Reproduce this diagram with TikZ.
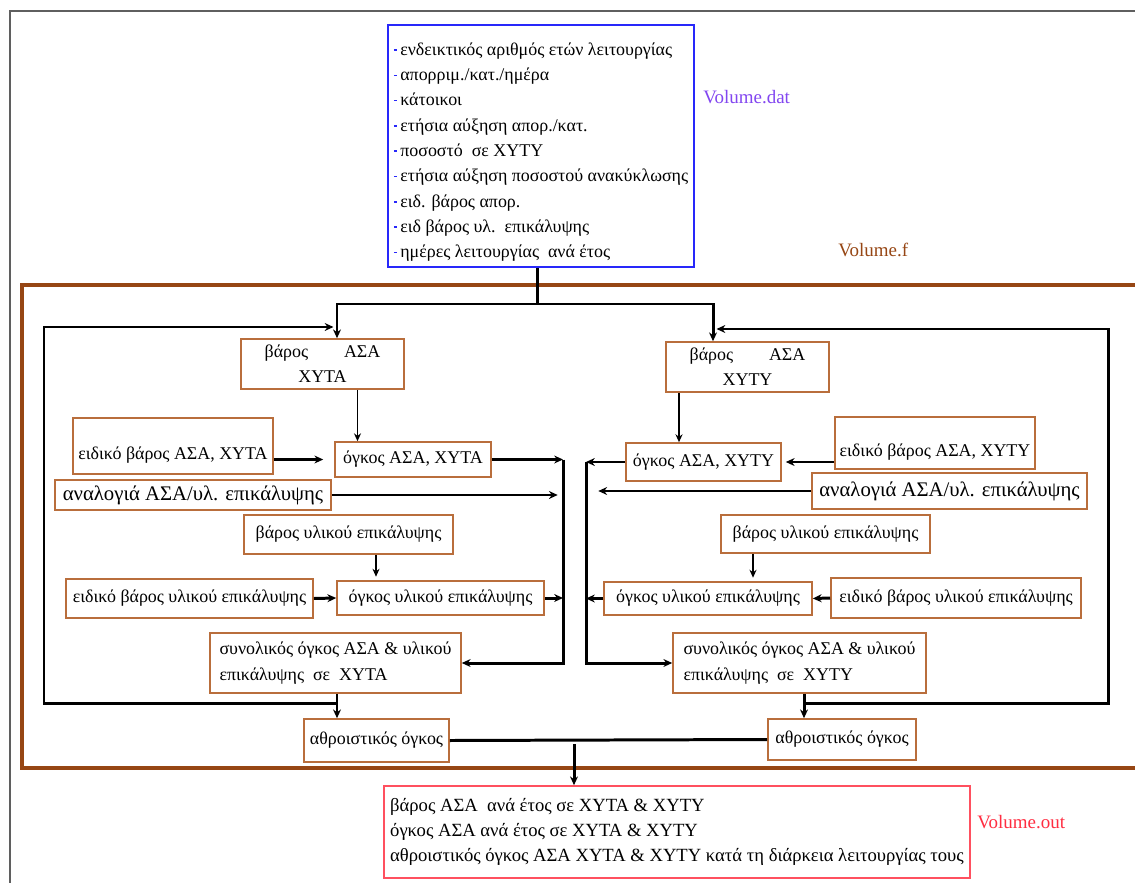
\documentclass[tikz,border=0pt]{standalone}
\usepackage{fontspec}
\setmainfont{Liberation Serif}
\usetikzlibrary{arrows.meta, positioning}
\definecolor{datblue}{RGB}{40,40,250}
\definecolor{datlabel}{RGB}{130,70,240}
\definecolor{framebrown}{RGB}{150,70,20}
\definecolor{boxbrown}{RGB}{185,110,60}
\definecolor{outred}{RGB}{255,80,95}
\definecolor{outlabel}{RGB}{255,45,65}
\definecolor{framegray}{RGB}{95,95,95}
\newcommand{\bmark}{{\color{datblue}\rule[0.55ex]{2pt}{0.9pt}}\,}
\tikzset{sz/.style 2 args={minimum width=#1*0.02cm, minimum height=#2*0.02cm}}

\begin{document}
\begin{tikzpicture}[
  x=0.02cm, y=-0.02cm,
  font=\fontsize{10.2}{14.4}\selectfont,
  proc/.style={rectangle, draw=boxbrown, line width=0.9pt, fill=white,
               inner sep=2pt, align=center},
  datbox/.style={rectangle, draw=datblue, line width=1.1pt, inner sep=2pt,
                 align=left},
  outbox/.style={rectangle, draw=outred, line width=0.9pt, inner sep=2pt,
                 align=left, font=\fontsize{10.6}{14.4}\selectfont},
  tag/.style={inner sep=0pt, anchor=west, font=\fontsize{10.8}{12}\selectfont},
  bigtext/.style={font=\fontsize{11.8}{14.4}\selectfont},
  lowtext/.style={text height=0.62cm, text depth=0.08cm},
  wire/.style={line width=1.7pt},
  arr/.style={wire, -{Stealth[length=5pt, width=4.5pt]}},
  thinarr/.style={line width=1.1pt, -{Stealth[length=4.5pt, width=4pt]}}
]
\useasboundingbox (0,0) rectangle (1135,882);

% frames
\draw[framegray, line width=1.2pt] (10,890) -- (10,11) -- (1145,11);
\draw[framebrown, line width=1.8pt] (1145,285) -- (22,285) -- (22,768) -- (1145,768);

% input file
\node[datbox, sz={306}{242}] (dat) at (541,146) {%
  \rule{0pt}{0.5cm}\bmark ενδεικτικός αριθμός ετών λειτουργίας\\
  \bmark απορριμ./κατ./ημέρα\\
  \bmark κάτοικοι\\
  \bmark ετήσια αύξηση απορ./κατ.\\
  \bmark ποσοστό\ \ σε ΧΥΤΥ\\
  \bmark ετήσια αύξηση ποσοστού ανακύκλωσης\\
  \bmark ειδ. βάρος απορ.\\
  \bmark ειδ βάρος υλ.\ \ επικάλυψης\\
  \bmark ημέρες λειτουργίας\ \ ανά έτος};
\node[tag, text=datlabel] (datname) at (703,97) {Volume.dat};
\node[tag, text=framebrown] (fname) at (838,250) {Volume.f};

% left column (ΧΥΤΑ)
\node[proc, sz={163}{50}] (wA) at (322.5,364) {βάρος\qquad ΑΣΑ\\ΧΥΤΑ};
\node[proc, sz={156}{35}] (vA) at (413,459.5) {όγκος ΑΣΑ, ΧΥΤΑ};
\node[proc, sz={200}{56}, lowtext] (sA) at (173,446) {ειδικό βάρος ΑΣΑ, ΧΥΤΑ};
\node[proc, sz={276}{30}, bigtext] (rA) at (193,495) {αναλογιά ΑΣΑ/υλ. επικάλυψης};
\node[proc, sz={209}{39}] (mA) at (348.5,534.5) {βάρος υλικού επικάλυψης};
\node[proc, sz={247}{39}] (smA) at (189.5,598.5) {ειδικό βάρος υλικού επικάλυψης};
\node[proc, sz={207}{34}] (vmA) at (440.5,598) {όγκος υλικού επικάλυψης};
\node[proc, sz={251}{60}, align=left] (tA) at (335.5,663)
  {συνολικός όγκος ΑΣΑ \& υλικού\\επικάλυψης\ \ σε\ \ ΧΥΤΑ};
\node[proc, sz={145}{43}] (cA) at (376.5,740.5) {αθροιστικός όγκος};

% right column (ΧΥΤΥ)
\node[proc, sz={163}{50}] (wY) at (747.5,367) {βάρος\qquad ΑΣΑ\\ΧΥΤΥ};
\node[proc, sz={155}{38}] (vY) at (703.5,462) {όγκος ΑΣΑ, ΧΥΤΥ};
\node[proc, sz={200}{52}, lowtext] (sY) at (935,443) {ειδικό βάρος ΑΣΑ, ΧΥΤΥ};
\node[proc, sz={275}{36}, bigtext] (rY) at (949.5,491) {αναλογιά ΑΣΑ/υλ. επικάλυψης};
\node[proc, sz={209}{38}] (mY) at (825.5,534) {βάρος υλικού επικάλυψης};
\node[proc, sz={208}{33}] (vmY) at (708,598.5) {όγκος υλικού επικάλυψης};
\node[proc, sz={250}{40}] (smY) at (956,598) {ειδικό βάρος υλικού επικάλυψης};
\node[proc, sz={253}{60}, align=left] (tY) at (799.5,663)
  {συνολικός όγκος ΑΣΑ \& υλικού\\επικάλυψης\ \ σε\ \ ΧΥΤΥ};
\node[proc, sz={148}{41}] (cY) at (842,739.5) {αθροιστικός όγκος};

% output file
\node[outbox, sz={586}{92}] (out) at (677,832) {%
  βάρος ΑΣΑ\ \ ανά έτος σε ΧΥΤΑ \& ΧΥΤΥ\\
  όγκος ΑΣΑ ανά έτος σε ΧΥΤΑ \& ΧΥΤΥ\\
  αθροιστικός όγκος ΑΣΑ ΧΥΤΑ \& ΧΥΤΥ κατά τη διάρκεια λειτουργίας τους};
\node[tag, text=outlabel] (outname) at (977,822) {Volume.out};

% junctions
\coordinate (split) at (537,304);
\coordinate (inA) at (337,304);
\coordinate (inY) at (713,304);
\coordinate (backA) at (44,327);
\coordinate (backY) at (1108,329);
\coordinate (loopA) at (44,703);
\coordinate (loopY) at (1108,703);
\coordinate (sumA) at (337,703);
\coordinate (sumY) at (804,703);
\coordinate (busA) at (563,459);
\coordinate (busY) at (586,459);
\coordinate (join) at (574,744);

% yearly loop
\draw[wire] (dat.south -| split) -- (split);
\draw[arr] (split) -- (inA) -- (wA.north -| inA);
\draw[arr] (split) -- (inY) -- (wY.north -| inY);
\draw[arr, shorten >=2pt] (sumA) -- (loopA) -- (backA) -- (backA -| inA);
\draw[arr, shorten >=2pt] (sumY) -- (loopY) -- (backY) -- (backY -| inY);
\draw[arr] (tA.south -| sumA) -- (cA.north -| sumA);
\draw[arr] (tY.south -| sumY) -- (cY.north -| sumY);

% left column
\draw[thinarr] ([xshift=0.7cm]wA.south) -- ([xshift=0.7cm]wA.south |- vA.north);
\draw[arr, shorten >=0.22cm] (sA.east |- vA.west) -- (vA.west);
\draw[arr] (vA.east) -- (vA.east -| busA);
\draw[arr] (vA.east -| busA) -- (busA |- tA.east) -- (tA.east);
\draw[arr, shorten >=3pt] (rA.east) -- (rA.east -| busA);
\draw[thinarr, shorten >=2pt] ([xshift=0.55cm]mA.south) -- ([xshift=0.55cm]mA.south |- vmA.north);
\draw[arr] (smA.east) -- (vmA.west);
\draw[arr] (vmA.east) -- (vmA.east -| busA);

% right column
\draw[thinarr] ([xshift=-1.37cm]wY.south) -- ([xshift=-1.37cm]wY.south |- vY.north);
\draw[arr, shorten >=0.08cm] (sY.west |- vY.east) -- (vY.east);
\draw[arr] (vY.west) -- (vY.west -| busY);
\draw[arr] (vY.west -| busY) -- (busY |- tY.west) -- (tY.west);
\draw[arr, shorten >=7pt] (rY.west) -- (rY.west -| busY);
\draw[thinarr, shorten >=2pt] ([xshift=-1.45cm]mY.south) -- ([xshift=-1.45cm]mY.south |- vmY.north);
\draw[arr] (smY.west) -- (vmY.east);
\draw[arr] (vmY.west) -- (vmY.west -| busY);

% totals to output
\draw[wire] (cA.east) -- (cY.west);
\draw[arr] (join) -- (join |- out.north);
\end{tikzpicture}
\end{document}
